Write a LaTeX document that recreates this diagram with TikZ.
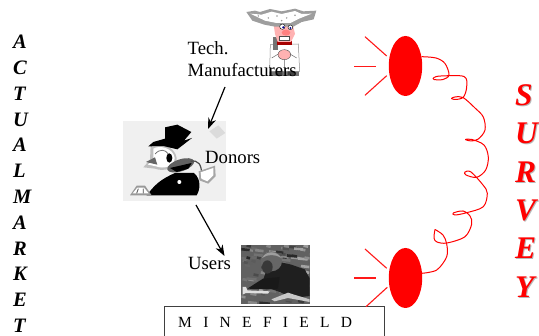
\documentclass[tikz,border=0pt]{standalone}
\usepackage{fontspec}
\setmainfont{Liberation Serif}
\usetikzlibrary{arrows.meta,shapes.geometric}
\tikzset{
  label/.style={inner sep=0pt,font=\fontsize{18.7}{22}\selectfont,align=left,text=black},
  flow/.style={black,line width=1.2pt,-{Stealth[length=11pt,width=8pt]}},
  vcolumn/.style={inner sep=0pt,align=left,anchor=north west,font=\fontsize{20.5}{25.8}\selectfont\bfseries\itshape},
  survey/.style={inner sep=0pt,align=left,anchor=north west,font=\fontsize{31.5}{38.4}\selectfont\bfseries\itshape},
  lamp/.style={ellipse,fill=red,draw=none,minimum width=33.4pt,minimum height=60pt,inner sep=0pt},
  ray/.style={red!90!white,line width=1.1pt},
  wire/.style={red,line width=1pt,line join=round},
  field/.style={draw=black!75,line width=1pt,fill=white}
}
\begin{document}
\begin{tikzpicture}[x=1pt,y=-1pt]
\useasboundingbox (0,0) rectangle (539,336);
\fill[white] (0,0) rectangle (539,336);

% chef
\begin{scope}[shift={(245,8)},scale=1/3]
  \fill[black!55] (72,172) rectangle (162,205);
  \fill[white,draw=black!45,line width=.5pt] (76,110) -- (160,108) -- (164,190) -- (74,190) -- cycle;
  \fill[black!75] (92,190) rectangle (112,202) (128,190) rectangle (148,202);
  \fill[black!55] (84,88) rectangle (100,125);
  \fill[red!65!black] (95,100) rectangle (140,110);
  \fill[red!30] (86,50) -- (142,46) -- (150,78) -- (138,102) -- (98,102) -- (90,78) -- cycle;
  \fill[black!38] (4,12) -- (30,8) -- (45,12) -- (75,3) -- (110,10) -- (150,2) -- (175,10) -- (214,8) -- (206,34) -- (170,42) -- (145,56) -- (90,56) -- (58,50) -- (22,38) -- cycle;
  \fill[white] (16,17) -- (50,20) -- (80,11) -- (110,18) -- (150,9) -- (170,18) -- (200,17) -- (162,32) -- (136,45) -- (95,45) -- (60,38) -- cycle;
  \foreach \a/\b in {40/24,70/30,96/24,125/30,150/22,110/38}{\fill[black!40] (\a,\b) circle (2.5);}
  \fill[white,draw=black,line width=.4pt] (112,56) circle (8) (136,58) circle (7);
  \fill[blue!60!black] (115,58) circle (3.5) (136,60) circle (3);
  \fill[red!50] (123,74) ellipse (13 and 9);
  \fill[black!70] (102,84) rectangle (134,98);
  \fill[white] (105,87) rectangle (131,95);
  \fill[red!30,draw=black!70,line width=.4pt] (118,140) ellipse (19 and 15);
  \draw[black!60,line width=.5pt] (80,150) -- (100,138) (155,150) -- (135,138) (118,155) -- (118,190);
\end{scope}

% duck
\begin{scope}[shift={(120,118)},scale=1/3]
  \fill[black!6] (9,10) rectangle (318,248);
  \fill[black!14] (268,40) -- (295,22) -- (316,45) -- (290,62) -- cycle;
  \fill[black] (80,232) .. controls (105,200) and (120,185) .. (165,165) -- (222,165) .. controls (245,185) and (240,215) .. (230,232) -- cycle;
  \fill[black!40] (30,232) -- (50,203) -- (75,203) -- (95,232) -- cycle;
  \fill[white] (38,226) -- (52,209) -- (72,209) -- (86,226) -- cycle;
  \draw[black!70,line width=.8pt] (55,212) -- (50,226) (70,212) -- (70,226);
  \fill[black!25] (92,84) .. controls (115,70) and (165,83) .. (170,120) .. controls (172,152) and (130,162) .. (105,152) -- (70,148) -- (90,125) -- cycle;
  \fill[white] (100,92) .. controls (118,80) and (160,90) .. (164,120) .. controls (165,146) and (130,154) .. (108,145) -- (84,140) -- (100,122) -- cycle;
  \draw[black!60,line width=.7pt] (105,108) .. controls (120,92) and (135,94) .. (145,108);
  \fill[black!60] (78,132) -- (105,118) -- (112,140) -- cycle;
  \fill[black] (135,28) -- (172,20) -- (214,42) -- (192,68) -- (216,60) -- (172,94) -- (130,84) -- (85,85) -- (100,72) -- (135,62) -- cycle;
  \fill[black] (148,120) ellipse (9 and 14);
  \fill[black!62,rotate around={18:(182,142)}] (182,142) ellipse (42 and 18);
  \fill[black] (150,150) -- (215,135) -- (205,152) -- (170,162) -- cycle;
  \draw[black!70,line width=1.2pt] (212,130) .. controls (235,125) and (245,140) .. (245,170);
  \fill[black!35] (236,160) -- (285,143) -- (287,175) -- (265,197) -- (238,187) -- cycle;
  \fill[white] (242,163) -- (280,150) -- (280,172) -- (262,190) -- (244,182) -- cycle;
  \fill[white] (178,192) circle (6);
\end{scope}

% photo
\begin{scope}[shift={(238,242)},scale=1/3]
  \fill[black!62] (10,10) rectangle (215,185);
  \pgfmathsetseed{11}
  \begin{scope}
  \clip (10,10) rectangle (215,185);
  \foreach \i in {1,...,110}{
    \pgfmathsetmacro{\px}{5+210*rnd}
    \pgfmathsetmacro{\py}{10+175*rnd}
    \pgfmathsetmacro{\pl}{10+22*rnd}
    \pgfmathsetmacro{\pg}{35+50*rnd}
    \draw[black!\pg,line width=2.6pt] (\px,\py) -- ++(\pl,3);
  }
  \end{scope}
  \fill[black!88] (70,130) -- (85,85) -- (125,60) -- (160,68) -- (200,82) -- (215,110) -- (215,162) -- (165,168) -- (125,150) -- cycle;
  \fill[black!90] (28,140) -- (75,110) -- (125,105) -- (120,140) -- (90,142) -- cycle;
  \fill[black!60] (100,58) ellipse (32 and 30);
  \fill[black!38] (72,48) .. controls (85,25) and (115,25) .. (130,48) .. controls (110,36) and (90,36) .. (72,48) -- cycle;
  \fill[black!78] (88,75) ellipse (16 and 20);
  \fill[black!12] (14,135) -- (24,135) -- (28,145) -- (95,148) -- (90,155) -- (24,153) -- (14,158) -- cycle;
  \fill[black!22] (100,172) -- (150,152) -- (162,156) -- (215,172) -- (215,180) -- (150,168) -- (110,178) -- cycle;
\end{scope}

\node[label,anchor=north west] (tech) at (187.5,41) {Tech.\\Manufacturers};
\node[label,anchor=north west] (donors) at (205,151) {Donors};
\node[label,anchor=north west] (users) at (188,257) {Users};

\coordinate (techout) at (225,87);
\coordinate (donorin) at (208,129);
\coordinate (donorout) at (196,205);
\coordinate (userin) at (224.5,256);
\draw[flow] (techout) -- (donorin);
\draw[flow] (donorout) -- (userin);

\draw[field] (164,307) rectangle (384.5,345);
\node[inner sep=0pt,anchor=base west,font=\fontsize{15.5}{17}\selectfont] (mine) at (178,328) {\spaceskip=11.3pt M I N E F I E L D};

\node[lamp] (o1) at (405.5,66) {};
\node[lamp] (o2) at (405.5,278) {};
\coordinate (r1a) at (365,36.7); \coordinate (r1b) at (386.7,56);
\coordinate (r2a) at (354,66.4); \coordinate (r2b) at (376,66.4);
\coordinate (r3a) at (365,95.3); \coordinate (r3b) at (386.7,75.7);
\coordinate (r4a) at (365,249); \coordinate (r4b) at (386.7,268.3);
\coordinate (r5a) at (354,278); \coordinate (r5b) at (376,278);
\coordinate (r6a) at (366,306.7); \coordinate (r6b) at (387.3,287.3);
\draw[ray] (r1a) -- (r1b);
\draw[ray] (r2a) -- (r2b);
\draw[ray] (r3a) -- (r3b);
\draw[ray] (r4a) -- (r4b);
\draw[ray] (r5a) -- (r5b);
\draw[ray] (r6a) -- (r6b);

\coordinate (w1) at (421.7,56.7);
\coordinate (w2) at (421.7,273.3);
\draw[wire] plot[smooth,tension=.55] coordinates {(w1) (436,58) (445,63.5) (449,75) (443,79.5) (434,79.5) (434,77.5) (441,76) (464,76.5) (466.7,86.7) (463.5,97) (456,99.5) (451.5,98.5) (455,97) (463,97.5) (475,108) (483.3,117) (485,130) (478.3,139) (471,141) (465.5,139.5) (472,139.5) (484,145) (488.3,157) (485.7,170) (476.7,177.3) (466,175) (465,172) (471,172) (483,185) (487.3,193.3) (483.3,206.7) (466.7,212.7) (455,215) (453.3,213) (463,211) (470,216) (471.7,224) (465,236.7) (447,243) (437,242) (434,238) (435,229.5)};
\draw[wire] plot[smooth,tension=.55] coordinates {(435,229.5) (443,235) (446.7,244) (446.7,256.7) (436.7,270) (w2)};

\node[vcolumn] (actual) at (13,35) {A\\C\\T\\U\\A\\L\\M\\A\\R\\K\\E\\T};
\node[survey,text=black!28] (surveyshade) at (516,85.2) {S\\U\\R\\V\\E\\Y};
\node[survey,text=red] (survey) at (515,84.2) {S\\U\\R\\V\\E\\Y};
\end{tikzpicture}
\end{document}
